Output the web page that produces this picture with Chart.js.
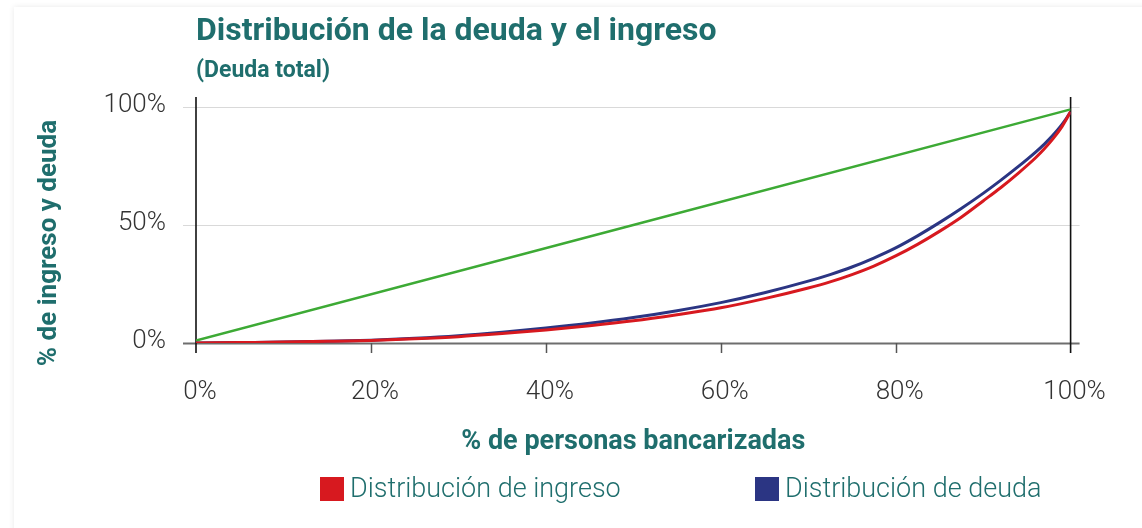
<!DOCTYPE html>
<html lang="es">
<head>
<meta charset="utf-8">
<title>Distribución de la deuda y el ingreso</title>
<script src="https://cdn.jsdelivr.net/npm/chart.js@4.4.1/dist/chart.umd.min.js"></script>
<style>
    html, body { margin: 0; padding: 0; background: #fff; }
    body { width: 1142px; height: 528px; position: relative; overflow: hidden; }
    .card {
        position: absolute; left: 14px; top: 7px; width: 1200px; height: 600px;
        background: #fff; box-shadow: 0 0 6px rgba(0, 0, 0, 0.09);
    }
    #wrap { position: absolute; left: 0; top: 0; width: 1142px; height: 528px; }
</style>
</head>
<body>
<div class="card"></div>
<div id="wrap"><canvas id="chart"></canvas></div>
<script>
// % de personas bancarizadas (eje x)
const pctPersonas = [0, 5, 10, 15, 20, 25, 30, 35, 40, 45, 50, 55, 60, 65, 70, 72.5, 75, 77.5, 80, 82.5, 85, 87.5, 90, 92, 94, 96, 97, 98, 99, 99.5, 100];
// curvas (% acumulado)
const distIngreso = [0, 0.2, 0.4, 0.7, 1.1, 1.8, 2.7, 4.0, 5.5, 7.3, 9.4, 12.0, 14.9, 18.8, 23.3, 25.9, 29.0, 32.6, 36.9, 41.8, 47.3, 53.3, 60.2, 65.8, 71.9, 78.5, 82.3, 86.6, 91.6, 94.7, 98];
const distDeuda   = [0, 0.2, 0.4, 0.7, 1.2, 2.0, 3.1, 4.6, 6.4, 8.4, 10.8, 13.7, 17.1, 21.3, 26.2, 29.0, 32.2, 36.0, 40.3, 45.4, 51.0, 57.0, 63.4, 68.9, 74.7, 80.9, 84.3, 88.1, 92.5, 95.1, 98];
// línea de igualdad
const igualdadX = [0, 100];
const igualdadY = [1, 99];

const xTicks = [0, 20, 40, 60, 80, 100];
const yTicks = [0, 50, 100];

const titulo = "Distribución de la deuda y el ingreso";
const subtitulo = "(Deuda total)";
const tituloX = "% de personas bancarizadas";
const tituloY = "% de ingreso y deuda";

const TEAL = "#1f6e6d";
const FONT = "Roboto, 'Open Sans', sans-serif";

const toPoints = (xs, ys) => xs.map((x, i) => ({ x: x, y: ys[i] }));

const marco = {
    id: "marco",
    beforeDatasetsDraw(chart) {
        const { ctx, chartArea: a, scales: { x, y } } = chart;
        ctx.save();
        // lineas horizontales
        yTicks.forEach((v) => {
            const py = Math.round(y.getPixelForValue(v)) + 0.5;
            ctx.strokeStyle = v === 0 ? "#6e6e6e" : "#d9d9d9";
            ctx.lineWidth = v === 0 ? 2 : 1.2;
            ctx.beginPath();
            ctx.moveTo(a.left - 13, py);
            ctx.lineTo(a.right + 9, py);
            ctx.stroke();
        });
        // marcas del eje x
        ctx.strokeStyle = "#555";
        ctx.lineWidth = 1.5;
        xTicks.slice(1, -1).forEach((v) => {
            const px = Math.round(x.getPixelForValue(v)) + 0.5;
            ctx.beginPath();
            ctx.moveTo(px, a.bottom);
            ctx.lineTo(px, a.bottom + 10);
            ctx.stroke();
        });
        // lineas verticales 0% y 100%
        ctx.strokeStyle = "#111";
        ctx.lineWidth = 1.6;
        [0, 100].forEach((v) => {
            const px = x.getPixelForValue(v);
            ctx.beginPath();
            ctx.moveTo(px, a.top - 10);
            ctx.lineTo(px, a.bottom + 10);
            ctx.stroke();
        });
        ctx.restore();
    },
    afterDraw(chart) {
        const { ctx, chartArea: a } = chart;
        ctx.save();
        ctx.fillStyle = TEAL;
        ctx.textAlign = "left";
        ctx.textBaseline = "alphabetic";
        ctx.font = "bold 32px " + FONT;
        ctx.fillText(titulo, 196, 40);
        ctx.font = "bold 23px " + FONT;
        ctx.fillText(subtitulo, 196, 77);

        // titulo eje x
        ctx.textAlign = "center";
        ctx.textBaseline = "middle";
        ctx.font = "bold 27px " + FONT;
        ctx.fillText(tituloX, (a.left + a.right) / 2, 442);

        // titulo eje y
        ctx.save();
        ctx.translate(49, 243);
        ctx.rotate(-Math.PI / 2);
        ctx.font = "bold 26px " + FONT;
        ctx.fillText(tituloY, 0, 0);
        ctx.restore();

        // leyenda
        const items = chart.data.datasets.filter((d) => d.enLeyenda);
        const posX = [320, 755];
        ctx.font = "300 27px " + FONT;
        ctx.textAlign = "left";
        items.forEach((d, i) => {
            ctx.fillStyle = d.borderColor;
            ctx.fillRect(posX[i], 477, 24, 24);
            ctx.fillStyle = TEAL;
            ctx.fillText(d.label, posX[i] + 30, 490);
        });
        ctx.restore();
    },
};

const chart = new Chart(document.getElementById("chart"), {
    type: "line",
    data: {
        datasets: [
            {
                label: "Distribución de ingreso",
                data: toPoints(pctPersonas, distIngreso),
                borderColor: "#d7191f",
                borderWidth: 3,
                enLeyenda: true,
            },
            {
                label: "Distribución de deuda",
                data: toPoints(pctPersonas, distDeuda),
                borderColor: "#2b3583",
                borderWidth: 3,
                enLeyenda: true,
            },
            {
                label: "Igualdad",
                data: toPoints(igualdadX, igualdadY),
                borderColor: "#3daa35",
                borderWidth: 2.5,
                enLeyenda: false,
            },
        ],
    },
    options: {
        responsive: true,
        maintainAspectRatio: false,
        animation: false,
        layout: { padding: { top: 107, right: 71.4, bottom: 0, left: 0 } },
        elements: {
            point: { radius: 0 },
            line: { cubicInterpolationMode: "monotone", fill: false },
        },
        plugins: {
            legend: { display: false },
            title: { display: false },
            tooltip: { enabled: false },
        },
        scales: {
            x: {
                type: "linear",
                min: 0,
                max: 100,
                afterFit: (s) => { s.height = 185; },
                afterBuildTicks: (s) => { s.ticks = xTicks.map((v) => ({ value: v })); },
                grid: { display: false },
                border: { display: false },
                ticks: {
                    callback: (v) => v + "%",
                    padding: 26,
                    labelOffset: 4,
                    color: "#333",
                    font: { family: FONT, size: 26, weight: "300" },
                    maxRotation: 0,
                },
            },
            y: {
                min: 0,
                max: 100,
                afterFit: (s) => { s.width = 196; },
                afterBuildTicks: (s) => { s.ticks = yTicks.map((v) => ({ value: v })); },
                grid: { display: false },
                border: { display: false },
                ticks: {
                    callback: (v) => v + "%",
                    padding: 22,
                    labelOffset: -2,
                    color: "#333",
                    font: { family: FONT, size: 26, weight: "300" },
                },
            },
        },
    },
    plugins: [marco],
});
</script>
</body>
</html>
